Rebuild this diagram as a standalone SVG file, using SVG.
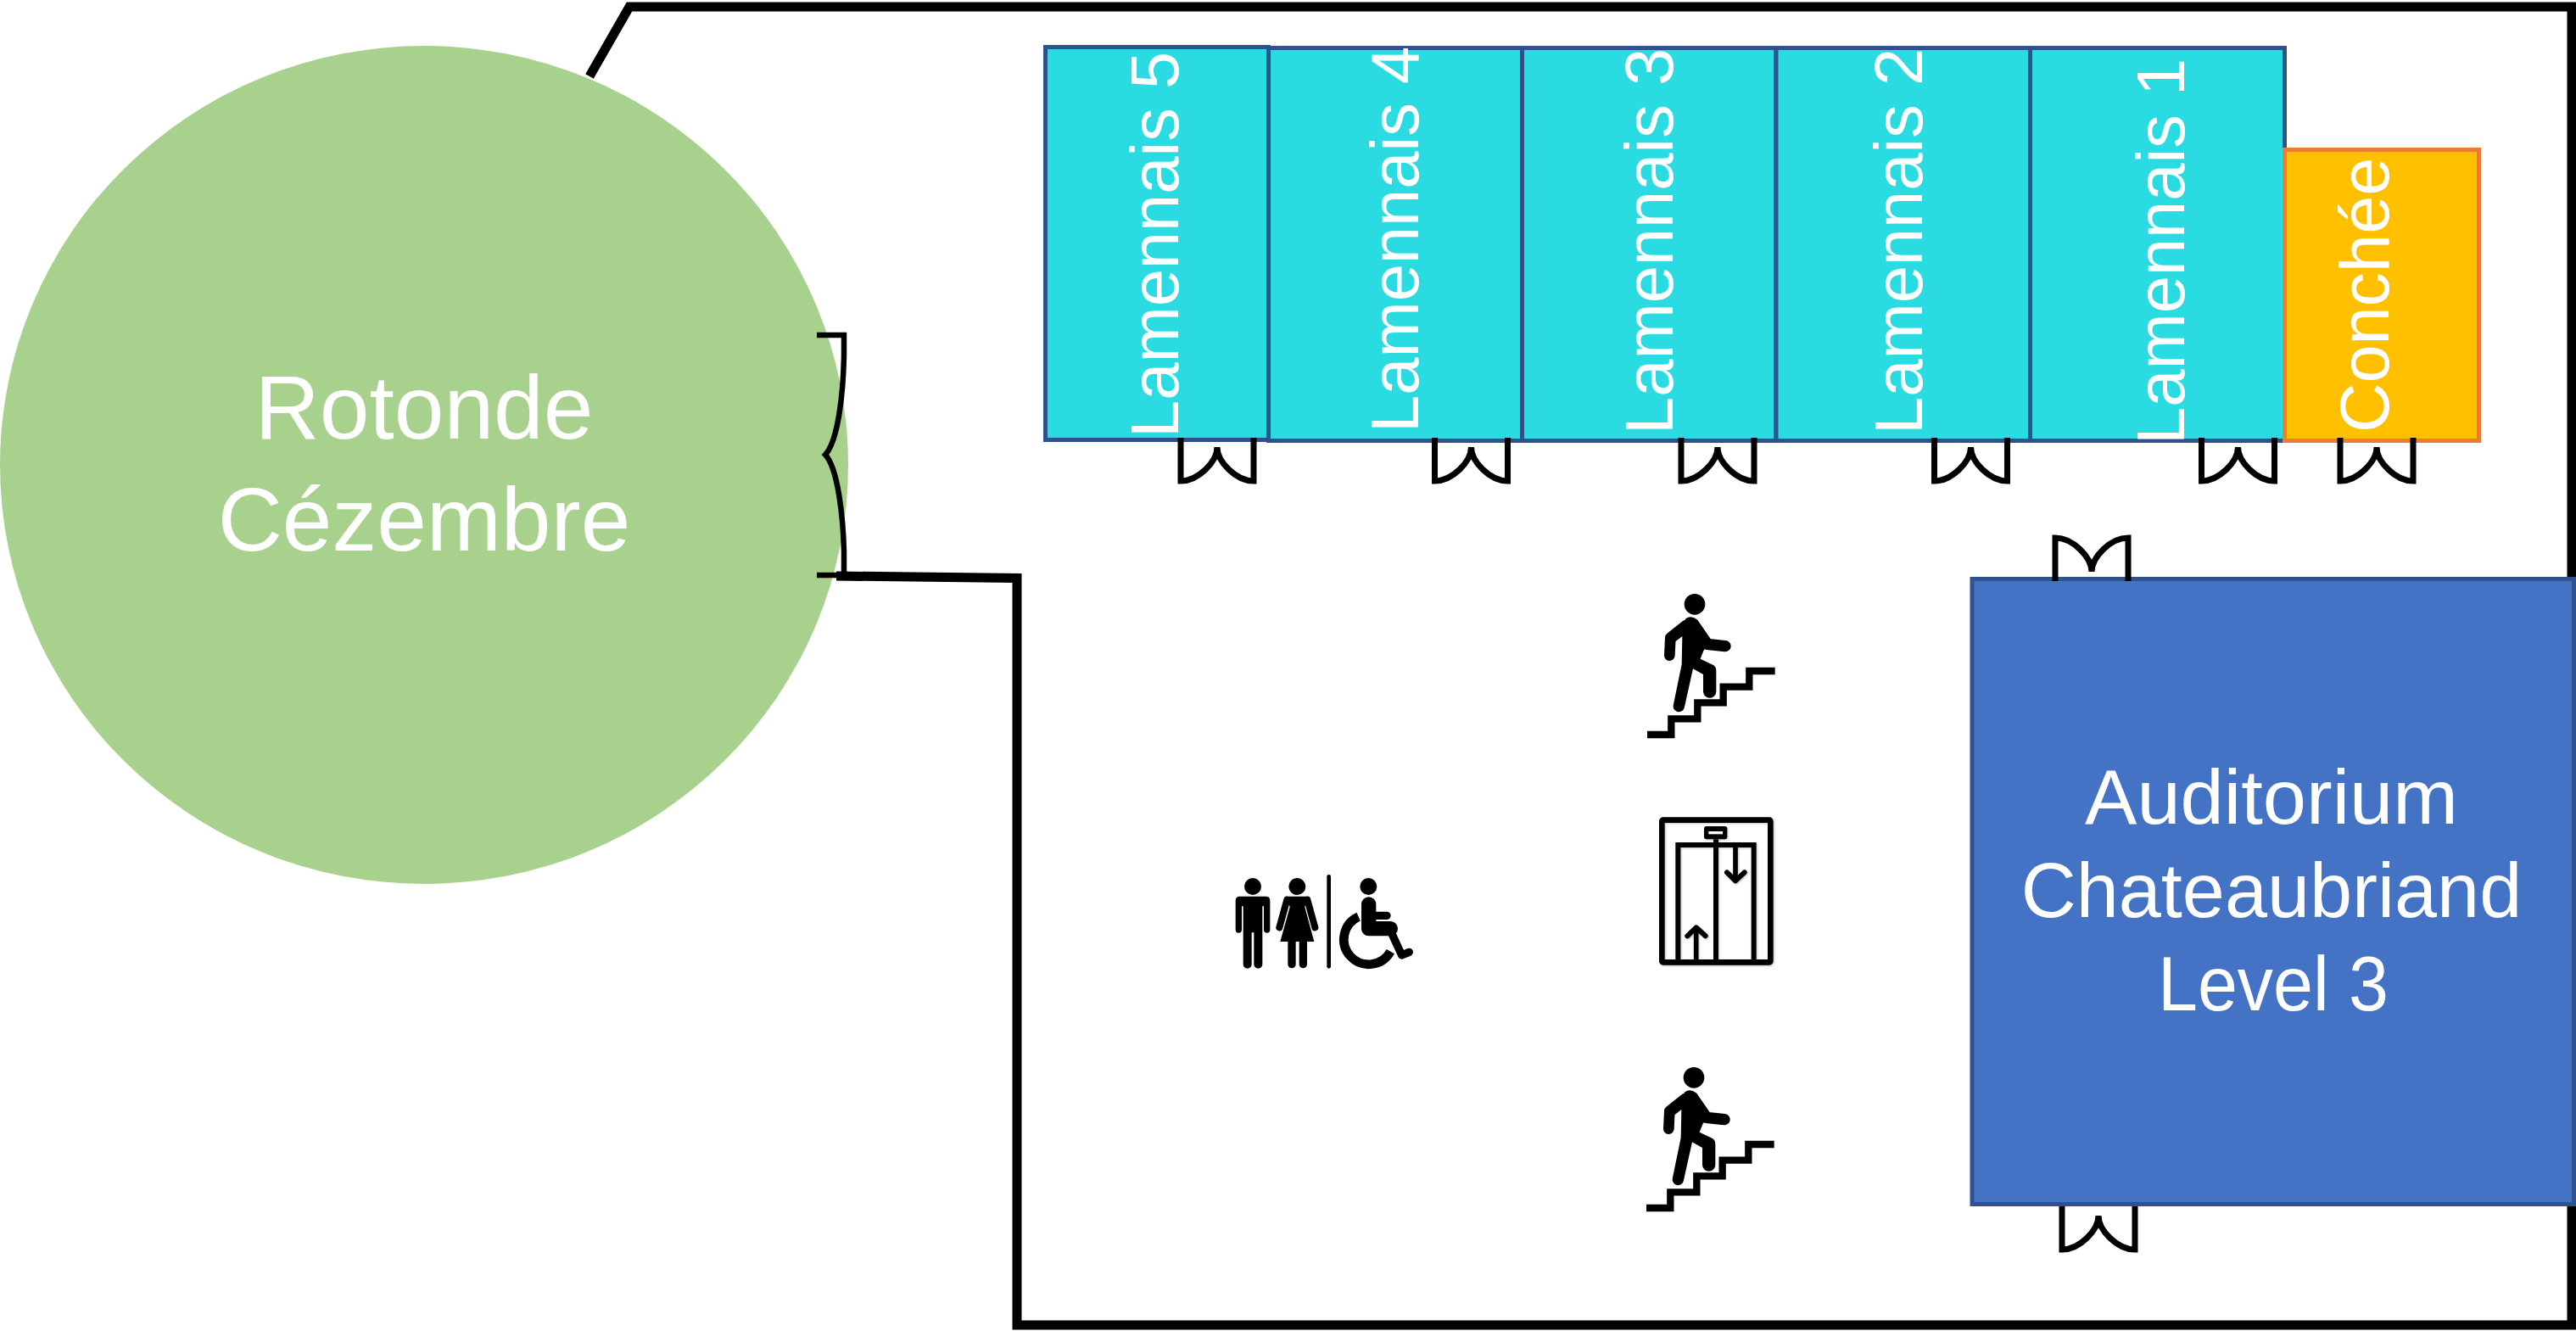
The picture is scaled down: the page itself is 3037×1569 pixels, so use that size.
<svg xmlns="http://www.w3.org/2000/svg" xmlns:xlink="http://www.w3.org/1999/xlink" width="3037" height="1569" viewBox="0 0 3037 1569">
<style>
text{font-family:"Liberation Sans",Arial,sans-serif;fill:#fff}
.lam{fill:#2ADCE1;stroke:#2F528F;stroke-width:5}
.v{font-size:79.5px}
.c{font-size:105.500px;text-anchor:middle}
.a{font-size:90px;text-anchor:middle}
.door{fill:none;stroke:#000;stroke-width:7;stroke-miterlimit:10}
.wall{fill:none;stroke:#000;stroke-width:11;stroke-linejoin:miter}
.rs{fill:none;stroke:#000;stroke-linecap:round;stroke-linejoin:round}
</style>
<defs>
<path id="door" class="door" d="M-43 0V51C-22 51 0 28 0 11C0 28 22 51 43 51V0"/>
<filter id="soft" x="-10%" y="-10%" width="125%" height="125%"><feDropShadow dx="3" dy="3" stdDeviation="3" flood-color="#000" flood-opacity=".25"/></filter>
<g id="stairs">
<circle cx="294" cy="157" r="37"/>
<path d="M126 618H211V562H304V505H395V449H487V393H578" fill="none" stroke="#000" stroke-width="25"/>
<path d="M262 208Q282 193 304 212L352 282L325 322L314 350L360 372Q370 378 370 392V465A23 23 0 0 1 324 465V405L288 385L258 520A20 20 0 0 1 218 515L248 370L250 270L222 292Z"/>
<path class="rs" stroke-width="38" d="M262 232L208 275L205 338"/>
<path class="rs" stroke-width="40" d="M320 278L338 298L402 305"/>
</g>
</defs>
<rect width="3037" height="1569" fill="#fff"/>
<g id="rotonde">
<ellipse cx="500" cy="548" rx="500" ry="494" fill="#A9D18E"/>
<text class="c" x="500" y="517">Rotonde</text>
<text class="c" x="500" y="649">Cézembre</text>
</g>
<g id="walls">
<path class="wall" d="M695 90L742 8H3032V1562H1199V681.500L986 679"/>
</g>
<g id="lamennais-5"><rect class="lam" x="1232.500" y="55.500" width="263" height="463"/><text class="v" transform="translate(1389 516) rotate(-90)">Lamennais 5</text></g>
<g id="lamennais-4"><rect class="lam" x="1495.500" y="56.500" width="299" height="463"/><text class="v" transform="translate(1672 510) rotate(-90)">Lamennais 4</text></g>
<g id="lamennais-3"><rect class="lam" x="1794.500" y="56.500" width="299.500" height="463"/><text class="v" transform="translate(1972 512) rotate(-90)">Lamennais 3</text></g>
<g id="lamennais-2"><rect class="lam" x="2094" y="56.500" width="299.500" height="463"/><text class="v" transform="translate(2266 512) rotate(-90)">Lamennais 2</text></g>
<g id="lamennais-1"><rect class="lam" x="2393.500" y="56.500" width="300" height="463"/><text class="v" transform="translate(2575 524) rotate(-90)">Lamennais 1</text></g>
<g id="conchee"><rect x="2693.500" y="176.500" width="229" height="343" fill="#FFC000" stroke="#ED7D31" stroke-width="5"/><text style="font-size:81px" transform="translate(2816 510) rotate(-90)">Conchée</text></g>
<g id="auditorium">
<rect x="2325" y="682.500" width="709.500" height="737" fill="#4472C4" stroke="#2F528F" stroke-width="5"/>
<text class="a" x="2678" y="971" textLength="440" lengthAdjust="spacingAndGlyphs">Auditorium</text>
<text class="a" x="2678" y="1081">Chateaubriand</text>
<text class="a" x="2680" y="1191" textLength="272" lengthAdjust="spacingAndGlyphs">Level 3</text>
</g>
<g id="doors">
<use xlink:href="#door" href="#door" x="1435" y="516"/>
<use xlink:href="#door" href="#door" x="1734.500" y="516"/>
<use xlink:href="#door" href="#door" x="2025" y="516"/>
<use xlink:href="#door" href="#door" x="2323.500" y="516"/>
<use xlink:href="#door" href="#door" x="2638.500" y="516"/>
<use xlink:href="#door" href="#door" x="2802" y="516"/>
<use xlink:href="#door" href="#door" transform="translate(2466 685) scale(1 -1)"/>
<use xlink:href="#door" href="#door" x="2474" y="1422"/>
</g>
<g id="rotonde-door">
<path d="M963 395H995V420C994 465 988 520 973 536C988 552 994 610 995 650V678H963" fill="none" stroke="#000" stroke-width="6.500"/>
</g>
<g id="stairs-up"><use xlink:href="#stairs" href="#stairs" transform="translate(1900 660) scale(.33333)"/></g>
<g id="stairs-down"><use xlink:href="#stairs" href="#stairs" transform="translate(1899 1218) scale(.33333)"/></g>
<g id="lift" transform="translate(1920 940) scale(.33333)" filter="url(#soft)">
<rect x="118" y="80" width="384" height="503" rx="4" fill="none" stroke="#000" stroke-width="20"/>
<path d="M175 583V168H443V583M309 168V583M309 148V168" fill="none" stroke="#000" stroke-width="18"/>
<rect x="267" y="102" width="82" height="46" rx="9"/>
<rect x="283" y="120" width="50" height="10" fill="#fff"/>
<path d="M378 168V290" fill="none" stroke="#000" stroke-width="17"/>
<path class="rs" stroke-width="18" d="M348 265L378 295L410 265"/>
<path d="M239 583V465" fill="none" stroke="#000" stroke-width="17"/>
<path class="rs" stroke-width="18" d="M208 490L239 460L272 490"/>
</g>
<g id="restrooms" transform="translate(1430 1010) scale(.33333)">
<circle cx="141" cy="105" r="30"/>
<path d="M95 140H187Q202 140 202 155V258a11 11 0 0 1-22 0V175H175V380a15 15 0 0 1-30 0V268H137V380a15 15 0 0 1-30 0V175H102V258a11 11 0 0 1-22 0V155Q80 140 95 140Z"/>
<circle cx="298" cy="105" r="30"/>
<path d="M262 140H334L325 178L358 300H333V380a14 14 0 0 1-28 0V300H293V380a14 14 0 0 1-28 0V300H238L272 178Z"/>
<path class="rs" stroke-width="24" d="M262 152L235 250M334 152L361 250"/>
<path class="rs" stroke-width="14" d="M410 70V388"/>
<circle cx="550" cy="105" r="30"/>
<path class="rs" stroke-width="52" d="M551 168V254H628"/>
<path class="rs" stroke-width="28" d="M628 262L668 348L694 337M577 208H615"/>
<path d="M515 212A88 88 0 1 0 628 335" fill="none" stroke="#000" stroke-width="32"/>
</g>
</svg>
